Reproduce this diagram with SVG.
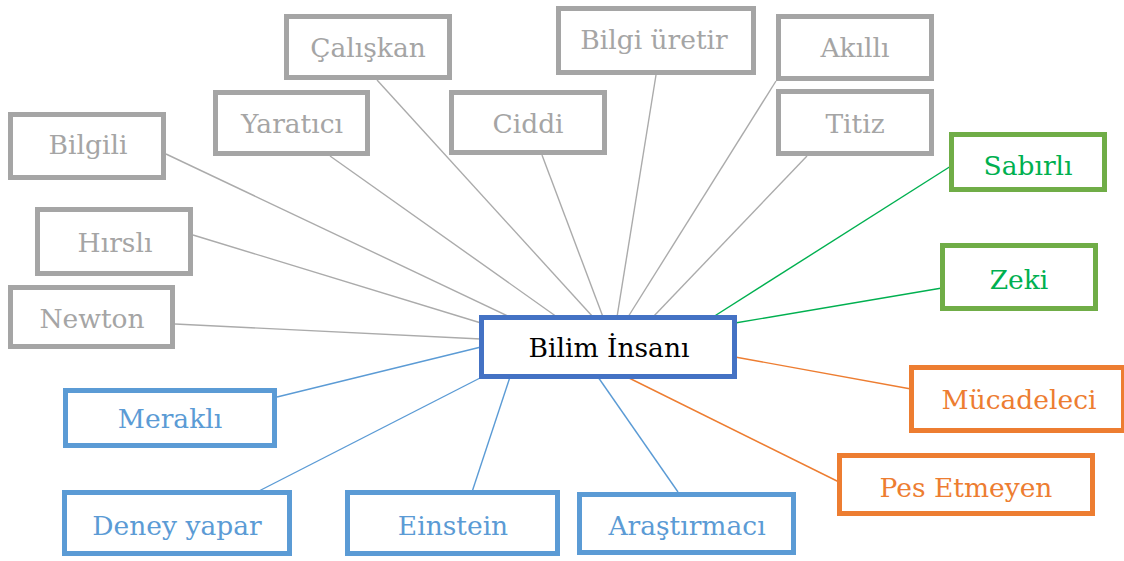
<svg xmlns="http://www.w3.org/2000/svg" width="1124" height="561" viewBox="0 0 1124 561">
<style>
text{font-family:"DejaVu Serif","Liberation Serif",serif;font-size:26.5px;text-anchor:middle}
rect{fill:#fff;stroke-width:5}
.g rect{stroke:#A5A5A5}.g text{fill:#A5A5A5}
.gr rect{stroke:#70AD47}.gr text{fill:#00B050}
.o rect{stroke:#ED7D31}.o text{fill:#ED7D31}
.b rect{stroke:#5B9BD5}.b text{fill:#5B9BD5}
.c rect{stroke:#4472C4}.c text{fill:#000}
#connectors line{stroke-width:1.4;fill:none}
.lg{stroke:#ABABAB}.lgr{stroke:#00B050}.lo{stroke:#ED7D31}.lb{stroke:#5B9BD5}
</style>
<rect x="0" y="0" width="1124" height="561" style="fill:#fff;stroke:none"/>
<g id="connectors">
<line class="lg" x1="166" y1="154" x2="510" y2="317"/>
<line class="lg" x1="330" y1="156" x2="557" y2="317"/>
<line class="lg" x1="377" y1="80" x2="593" y2="317"/>
<line class="lg" x1="542" y1="155" x2="603" y2="317"/>
<line class="lg" x1="656" y1="75" x2="617" y2="317"/>
<line class="lg" x1="776" y1="81" x2="628" y2="317"/>
<line class="lg" x1="807" y1="156" x2="653" y2="317"/>
<line class="lg" x1="193" y1="235" x2="481" y2="323"/>
<line class="lg" x1="175" y1="324" x2="481" y2="339"/>
<line class="lgr" x1="951" y1="166" x2="713" y2="317"/>
<line class="lgr" x1="942" y1="288" x2="735" y2="323"/>
<line class="lo" x1="911" y1="389" x2="735" y2="357"/>
<line class="lo" x1="839" y1="482" x2="627" y2="377"/>
<line class="lb" x1="277" y1="397" x2="481" y2="347"/>
<line class="lb" x1="257" y1="492" x2="482" y2="377"/>
<line class="lb" x1="472" y1="492" x2="510" y2="377"/>
<line class="lb" x1="678" y1="492" x2="598" y2="377"/>
</g>
<g id="n-center" class="c"><rect x="481.5" y="317.5" width="253" height="59"/><text x="609" y="357">Bilim İnsanı</text></g>
<g id="n-bilgili" class="g"><rect x="10.5" y="114.5" width="153" height="63"/><text x="88" y="154">Bilgili</text></g>
<g id="n-caliskan" class="g"><rect x="286.5" y="16.5" width="163" height="61"/><text x="368" y="57">Çalışkan</text></g>
<g id="n-yaratici" class="g"><rect x="215.5" y="92.5" width="152" height="61"/><text x="292" y="133">Yaratıcı</text></g>
<g id="n-ciddi" class="g"><rect x="451.5" y="92.5" width="153" height="60"/><text x="528" y="133">Ciddi</text></g>
<g id="n-bilgiuretir" class="g"><rect x="558.5" y="8.5" width="195" height="64"/><text x="654" y="49">Bilgi üretir</text></g>
<g id="n-akilli" class="g"><rect x="778.5" y="16.5" width="153" height="62"/><text x="855" y="57">Akıllı</text></g>
<g id="n-titiz" class="g"><rect x="778.5" y="91.5" width="153" height="62"/><text x="855" y="133">Titiz</text></g>
<g id="n-hirsli" class="g"><rect x="37.5" y="209.5" width="153" height="64"/><text x="115" y="252">Hırslı</text></g>
<g id="n-newton" class="g"><rect x="10.5" y="287.5" width="162" height="59"/><text x="92" y="328">Newton</text></g>
<g id="n-sabirli" class="gr"><rect x="951.5" y="134.5" width="153" height="55"/><text x="1028" y="175">Sabırlı</text></g>
<g id="n-zeki" class="gr"><rect x="942.5" y="245.5" width="153" height="63"/><text x="1019" y="289">Zeki</text></g>
<g id="n-mucadeleci" class="o"><rect x="911.5" y="367.5" width="212" height="63"/><text x="1019" y="409">Mücadeleci</text></g>
<g id="n-pesetmeyen" class="o"><rect x="839.5" y="455.5" width="253" height="58"/><text x="966" y="497">Pes Etmeyen</text></g>
<g id="n-merakli" class="b"><rect x="65.5" y="390.5" width="209" height="55"/><text x="170" y="428">Meraklı</text></g>
<g id="n-deneyyapar" class="b"><rect x="64.5" y="492.5" width="225" height="61"/><text x="177" y="535">Deney yapar</text></g>
<g id="n-einstein" class="b"><rect x="347.5" y="492.5" width="210" height="61"/><text x="453" y="535">Einstein</text></g>
<g id="n-arastirmaci" class="b"><rect x="579.5" y="494.5" width="214" height="58"/><text x="687" y="535">Araştırmacı</text></g>
</svg>
